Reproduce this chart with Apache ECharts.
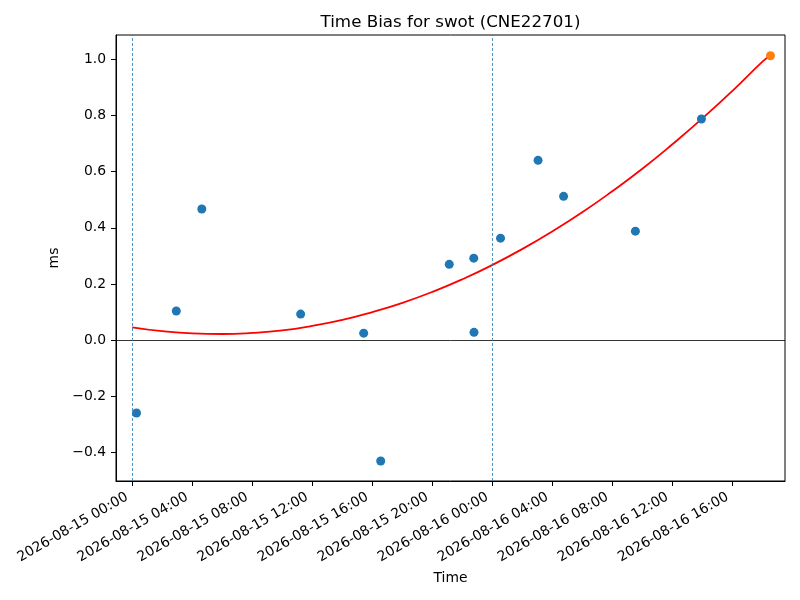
<!DOCTYPE html>
<html>
<head>
<meta charset="utf-8">
<script src="https://cdn.jsdelivr.net/npm/echarts@6/dist/echarts.min.js"></script>
<style>html,body{margin:0;padding:0;background:#fff}#c{width:800px;height:600px}</style>
</head>
<body>
<div id="c"></div>
<script>
const baseTime = '2026-08-15 00:00';
const pointTimes = ['2026-08-15 00:17','2026-08-15 02:56','2026-08-15 04:38','2026-08-15 11:13','2026-08-15 15:25','2026-08-15 16:33','2026-08-15 21:07','2026-08-15 22:45','2026-08-15 22:46','2026-08-16 00:32','2026-08-16 03:02','2026-08-16 04:44','2026-08-16 09:31','2026-08-16 13:55'];
const pointBias = [-0.259, 0.104, 0.467, 0.093, 0.025, -0.430, 0.270, 0.292, 0.028, 0.363, 0.640, 0.512, 0.388, 0.787];
const lastTime = '2026-08-16 18:31';
const lastBias = 1.012;
const fitTimes = ['2026-08-15 00:00','2026-08-15 02:00','2026-08-15 04:00','2026-08-15 06:00','2026-08-15 08:00','2026-08-15 10:00','2026-08-15 12:00','2026-08-15 14:00','2026-08-15 16:00','2026-08-15 18:00','2026-08-15 20:00','2026-08-15 22:00','2026-08-16 00:00','2026-08-16 02:00','2026-08-16 04:00','2026-08-16 06:00','2026-08-16 08:00','2026-08-16 10:00','2026-08-16 12:00','2026-08-16 14:00','2026-08-16 16:00','2026-08-16 18:00','2026-08-16 18:31'];
const fitBias = [0.046, 0.032, 0.024, 0.022, 0.026, 0.035, 0.051, 0.072, 0.100, 0.133, 0.172, 0.217, 0.268, 0.325, 0.388, 0.456, 0.531, 0.611, 0.698, 0.790, 0.888, 0.992, 1.014];
const dayMarks = ['2026-08-15 00:00','2026-08-16 00:00'];
const xTickTimes = ['2026-08-15 00:00','2026-08-15 04:00','2026-08-15 08:00','2026-08-15 12:00','2026-08-15 16:00','2026-08-15 20:00','2026-08-16 00:00','2026-08-16 04:00','2026-08-16 08:00','2026-08-16 12:00','2026-08-16 16:00'];
const yTicks = [-0.4, -0.2, 0.0, 0.2, 0.4, 0.6, 0.8, 1.0];
const xRangeTimes = ['2026-08-14 22:55','2026-08-16 19:29'];
const yRange = [-0.501, 1.086];

function toMs(s){ return Date.parse(s.replace(' ','T') + ':00Z'); }
const base = toMs(baseTime);
function toH(s){ return (toMs(s) - base) / 3600000; }
function pad(n){ return (n<10?'0':'') + n; }
function fmtH(h){
  const d = new Date(base + Math.round(h*3600000));
  return d.getUTCFullYear()+'-'+pad(d.getUTCMonth()+1)+'-'+pad(d.getUTCDate())+' '+pad(d.getUTCHours())+':'+pad(d.getUTCMinutes());
}
const FONT = 'DejaVu Sans';
const chart = echarts.init(document.getElementById('c'), null, {renderer:'canvas'});
chart.setOption({
  animation:false,
  backgroundColor:'#fff',
  textStyle:{fontFamily:FONT},
  grid:{left:116, right:15, top:35, bottom:119, show:true, borderColor:'#000', borderWidth:1, backgroundColor:'transparent'},
  graphic:[{type:'text', x:450.5, y:23, style:{text:'Time Bias for swot (CNE22701)', font:'16.7px "DejaVu Sans"', fill:'#000', textAlign:'center', textVerticalAlign:'middle'}}],
  xAxis:{
    type:'value', min:toH(xRangeTimes[0]), max:toH(xRangeTimes[1]),
    name:'Time', nameLocation:'middle', nameGap:90,
    nameTextStyle:{fontFamily:FONT, fontSize:13.9, color:'#000'},
    axisLine:{show:true, onZero:false, lineStyle:{color:'#000', width:1}},
    axisTick:{show:true, length:5, lineStyle:{color:'#000', width:1}, customValues:xTickTimes.map(toH)},
    axisLabel:{rotate:30, margin:12, padding:[0,6,0,0], fontFamily:FONT, fontSize:13.9, color:'#000', customValues:xTickTimes.map(toH), formatter:v=>fmtH(v)},
    splitLine:{show:false}
  },
  yAxis:{
    type:'value', min:yRange[0], max:yRange[1],
    name:'ms', nameLocation:'middle', nameGap:48,
    nameTextStyle:{fontFamily:FONT, fontSize:13.9, color:'#000'},
    axisLine:{show:true, onZero:false, lineStyle:{color:'#000', width:1}},
    axisTick:{show:true, length:5, lineStyle:{color:'#000', width:1}, customValues:yTicks},
    axisLabel:{margin:10, fontFamily:FONT, fontSize:13.9, color:'#000', customValues:yTicks, formatter:v=>v.toFixed(1).replace('-','\u2212')},
    splitLine:{show:false}
  },
  series:[
    {type:'line', data:[], silent:true, z:1,
     markLine:{symbol:'none', silent:true, label:{show:false},
       data:[{yAxis:0, lineStyle:{color:'#000', width:0.8, type:'solid'}}].concat(
         dayMarks.map(t=>({xAxis:toH(t), lineStyle:{color:'#1f77b4', width:0.8, type:[3,2]}})))}},
    {type:'line', data:fitTimes.map((t,i)=>[toH(t), fitBias[i]]), smooth:true, showSymbol:false, symbol:'none', z:2,
     lineStyle:{color:'#ff0000', width:1.8}},
    {type:'scatter', data:pointTimes.map((t,i)=>[toH(t), pointBias[i]]), symbolSize:9, z:3, itemStyle:{color:'#1f77b4', opacity:1}},
    {type:'scatter', data:[[toH(lastTime), lastBias]], symbolSize:9, z:4, itemStyle:{color:'#ff7f0e', opacity:1}}
  ]
});
</script>
</body>
</html>
